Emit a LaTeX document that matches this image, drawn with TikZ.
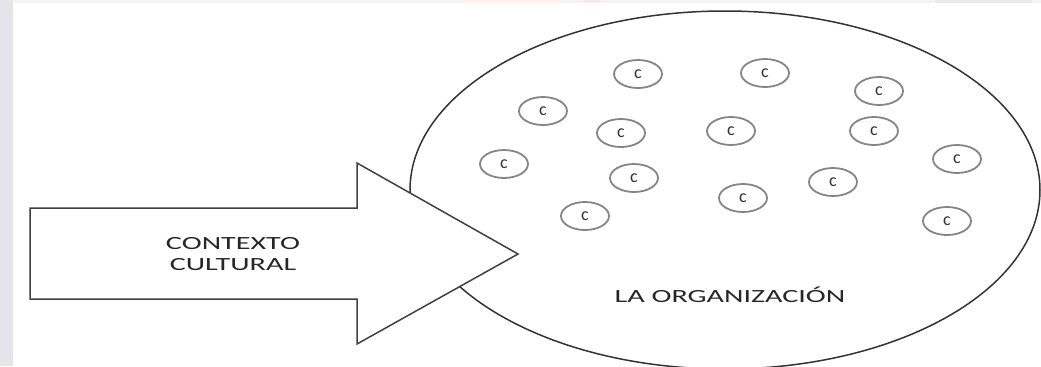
\documentclass[tikz,border=0pt]{standalone}
\usepackage{fontspec}
\setmainfont{Carlito}
\newfontfamily\widefont[FakeStretch=1.62]{Carlito}
\usetikzlibrary{shapes.geometric}
\definecolor{stripgray}{RGB}{228,228,234}
\definecolor{stripwarm}{RGB}{253,242,234}
\definecolor{strippink}{RGB}{250,232,236}
\begin{document}
\begin{tikzpicture}[x=.5pt,y=-.5pt,
    orgline/.style={draw=black!80,line width=.75pt},
    arrowline/.style={draw=black!75,line width=.75pt,fill=white,line join=miter},
    cval/.style={ellipse,draw=black!48,line width=.9pt,minimum width=24pt,minimum height=14pt,inner sep=0pt,text=black!80,font=\fontsize{9}{9}\selectfont},
    tagtext/.style={text=black!85,font=\widefont\fontsize{9.3}{10.5}\selectfont,align=center,inner sep=0pt}]
\useasboundingbox (0,0) rectangle (1041,366);
% page edges
\fill[stripgray] (0,0) rectangle (12.5,366);
\fill[stripgray!40] (12.5,0) rectangle (1041,3);
\fill[stripwarm] (461,0) rectangle (561,3);
\fill[strippink] (584,0) rectangle (600,3);
\fill[stripgray!80] (935,0) rectangle (1032,3);
% the organization
\node[orgline,ellipse,minimum width=315pt,minimum height=179pt,inner sep=0pt,outer sep=0pt] (org) at (725,190) {};
% cultural context arrow
\draw[arrowline] (30,208) -- (357,208) -- (357,163) -- (518,254) -- (357,344) -- (357,299) -- (30,299) -- cycle;
\node[tagtext] (ctx) at (233,254.5) {CONTEXTO\\CULTURAL};
\node[tagtext,anchor=base] (orgname) at (730,302) {LA ORGANIZACIÓN};
% culture elements
\node[cval] (c1) at (638,74) {c};
\node[cval] (c2) at (765,73) {c};
\node[cval] (c3) at (879,91) {c};
\node[cval] (c4) at (543,111) {c};
\node[cval] (c5) at (621,133) {c};
\node[cval] (c6) at (731,131) {c};
\node[cval] (c7) at (874,131) {c};
\node[cval] (c8) at (504,164) {c};
\node[cval] (c9) at (957,159) {c};
\node[cval] (c10) at (634,178) {c};
\node[cval] (c11) at (833,182) {c};
\node[cval] (c12) at (743,198) {c};
\node[cval] (c13) at (585,216) {c};
\node[cval] (c14) at (947,221) {c};
\end{tikzpicture}
\end{document}
